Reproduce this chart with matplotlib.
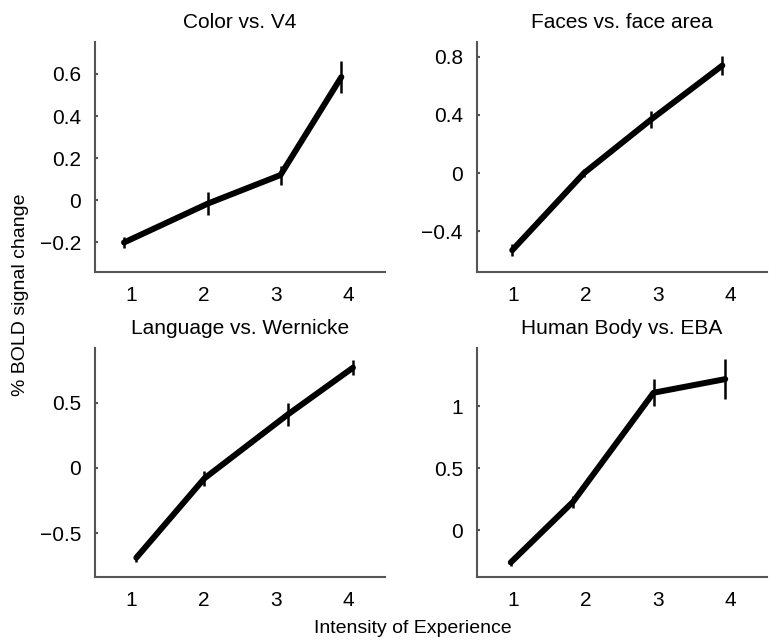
import matplotlib
matplotlib.use('Agg')
import matplotlib.pyplot as plt

plt.rcParams['font.family'] = ['Liberation Sans', 'DejaVu Sans']
plt.rcParams['font.size'] = 15

# data
titles = ['Color vs. V4', 'Faces vs. face area', 'Language vs. Wernicke', 'Human Body vs. EBA']
x_color = [0.90, 2.06, 3.06, 3.90]
y_color = [-0.20, -0.015, 0.12, 0.585]
e_color = [0.025, 0.055, 0.045, 0.075]

x_faces = [0.99, 1.98, 2.91, 3.89]
y_faces = [-0.53, 0.0, 0.37, 0.74]
e_faces = [0.04, 0.03, 0.06, 0.065]

x_lang = [1.07, 2.01, 3.16, 4.06]
y_lang = [-0.69, -0.08, 0.41, 0.77]
e_lang = [0.03, 0.06, 0.09, 0.06]

x_body = [0.97, 1.83, 2.94, 3.93]
y_body = [-0.26, 0.23, 1.11, 1.22]
e_body = [0.03, 0.05, 0.11, 0.16]

xticks = [1, 2, 3, 4]
yticks = [[-0.2, 0, 0.2, 0.4, 0.6], [-0.4, 0, 0.4, 0.8], [-0.5, 0, 0.5], [0, 0.5, 1]]
ytick_labels = [['\u22120.2', '0', '0.2', '0.4', '0.6'], ['\u22120.4', '0', '0.4', '0.8'],
                ['\u22120.5', '0', '0.5'], ['0', '0.5', '1']]
ylims = [(-0.34, 0.75), (-0.68, 0.90), (-0.84, 0.92), (-0.38, 1.47)]

xs = [x_color, x_faces, x_lang, x_body]
ys = [y_color, y_faces, y_lang, y_body]
es = [e_color, e_faces, e_lang, e_body]

fig = plt.figure(figsize=(7.79, 6.4), dpi=100)
positions = [[0.122, 0.575, 0.372, 0.359], [0.612, 0.575, 0.372, 0.359],
             [0.122, 0.098, 0.372, 0.358], [0.612, 0.098, 0.372, 0.358]]

for i in range(4):
    ax = fig.add_axes(positions[i])
    ax.errorbar(xs[i], ys[i], yerr=es[i], color='black', linewidth=4.3,
                elinewidth=1.8, capsize=0, solid_capstyle='round')
    ax.set_xlim(0.5, 4.5)
    ax.set_ylim(*ylims[i])
    ax.set_xticks(xticks)
    ax.set_yticks(yticks[i])
    ax.set_yticklabels(ytick_labels[i])
    ax.set_title(titles[i], fontsize=15, pad=10)
    for s in ['top', 'right']:
        ax.spines[s].set_visible(False)
    for s in ['left', 'bottom']:
        ax.spines[s].set_color('#555555')
        ax.spines[s].set_linewidth(1.5)
    ax.tick_params(axis='x', length=0, pad=10, labelsize=15)
    ax.tick_params(axis='y', length=2, width=1.5, direction='in', color='#555555',
                   pad=10, labelsize=15)

fig.text(0.026, 0.54, '% BOLD signal change', rotation=90, ha='center', va='center', fontsize=14)
fig.text(0.53, 0.018, 'Intensity of Experience', ha='center', va='center', fontsize=14)

fig.savefig('out.png', dpi=100)
